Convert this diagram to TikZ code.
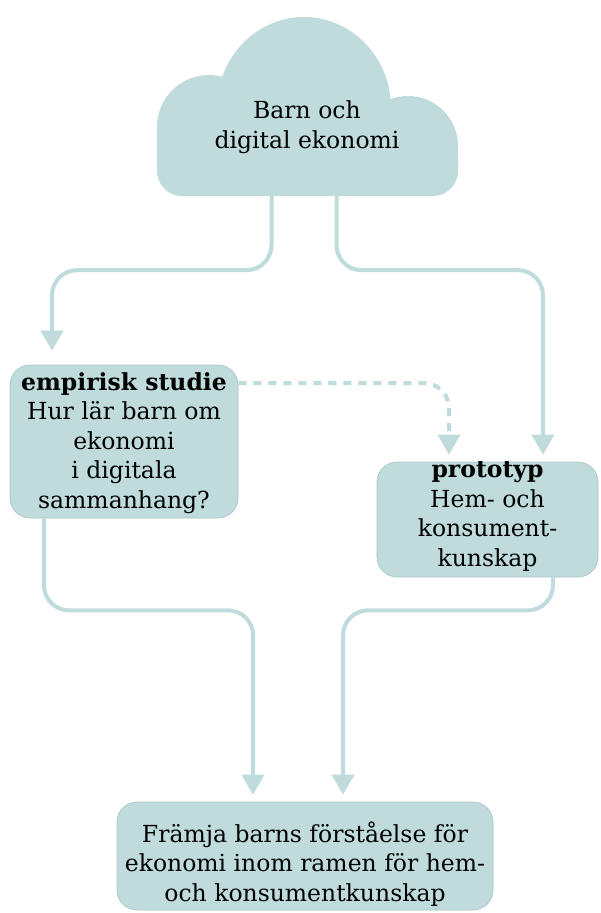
\documentclass[tikz,border=0pt]{standalone}
\usepackage{fontspec}
\setmainfont{DejaVu Serif}
\usetikzlibrary{arrows.meta}
\definecolor{tealfill}{RGB}{191,219,220}
\definecolor{tealedge}{RGB}{172,198,199}
\tikzset{
  boxnode/.style={fill=tealfill, draw=tealedge, line width=0.7pt, rounded corners=20pt, inner sep=0pt},
  txt/.style={align=center, font=\fontsize{23.5}{29.5}\selectfont, text=black, inner sep=0pt},
  conn/.style={draw=tealfill, line width=4pt, rounded corners=25pt, -{Triangle[width=22pt,length=20pt]}},
  dconn/.style={conn, dash pattern=on 8pt off 7pt},
}
\begin{document}
\begin{tikzpicture}[x=1pt,y=-1pt]
\useasboundingbox (0,0) rectangle (601,913);
% cloud
\node[fill=tealfill, rounded corners=25pt, minimum width=301pt, minimum height=66pt, inner sep=0pt] (cloudbody) at (307.5,163) {};
\fill[tealfill] (157,127) rectangle (210,171);
\begin{scope}
  \clip (0,0) rectangle (601,188);
  \fill[tealfill] (304,108) ellipse [x radius=87pt, y radius=91pt];
\end{scope}
\fill[tealfill] (209,127) circle [radius=52pt];
\fill[tealfill] (408,146) circle [radius=50pt];
\node[txt] (cloud) at (307,127) {Barn och\\digital ekonomi};
% boxes
\node[boxnode, minimum width=228pt, minimum height=153pt] (emp) at (124,441.5) {};
\node[txt] (emptext) at (124,443) {\textbf{empirisk studie}\\Hur lär barn om\\ekonomi\\i digitala\\sammanhang?};
\node[boxnode, minimum width=221pt, minimum height=115pt] (proto) at (487.5,519.5) {};
\node[txt] (prototext) at (487.5,516.5) {\textbf{prototyp}\\Hem- och\\konsument-\\kunskap};
\node[boxnode, minimum width=376pt, minimum height=108pt] (goal) at (305,856) {};
\node[txt] (goaltext) at (305,864) {Främja barns förståelse för\\ekonomi inom ramen för hem-\\och konsumentkunskap};
% connectors
\draw[conn, shorten >=14pt] ([xshift=-36pt]cloudbody.south) -- ++(0,74) -| ([xshift=-72pt]emp.north);
\draw[conn, shorten >=7pt] ([xshift=29pt]cloudbody.south) -- ++(0,74) -| ([xshift=55.5pt]proto.north);
\draw[dconn, shorten >=7pt] ([yshift=58.5pt]emp.east) -| ([xshift=-38.5pt]proto.north);
\draw[conn, shorten >=7pt] ([xshift=-80pt]emp.south) -- ++(0,92) -| ([xshift=-52pt]goal.north);
\draw[conn, shorten >=7pt] ([xshift=65.5pt]proto.south) -- ++(0,33) -| ([xshift=38pt]goal.north);
\end{tikzpicture}
\end{document}
